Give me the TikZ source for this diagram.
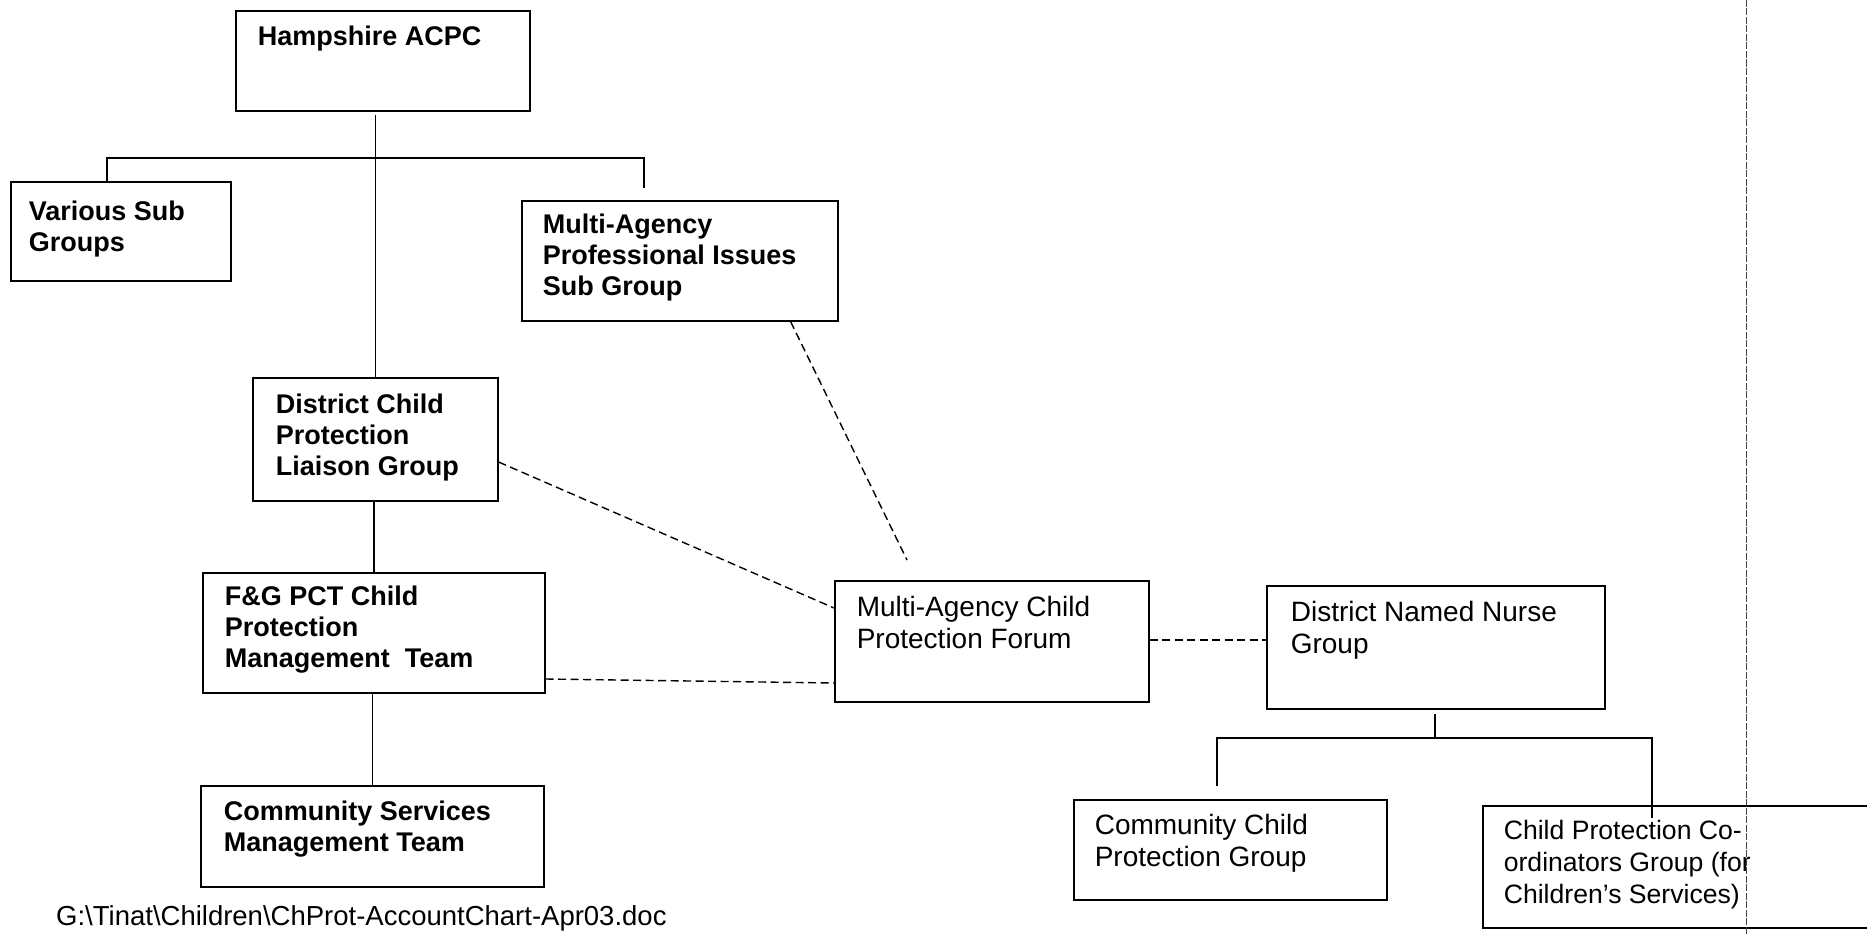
\documentclass[tikz,border=0pt]{standalone}
\usepackage{fontspec}
\setmainfont{Liberation Sans}
\newcommand{\bxt}[5]{\parbox[c][#2][t]{#1}{\raggedright\leftskip=#3\relax\vspace*{#4}#5}}
\newcommand{\bfs}{\bfseries\fontsize{27}{31}\selectfont}
\newcommand{\rgs}{\fontsize{28}{32}\selectfont}
\begin{document}
\begin{tikzpicture}[x=1pt,y=-1pt,
  box/.style={draw, line width=1.6pt, inner sep=0pt, anchor=north west},
  link/.style={line width=1.4pt},
  dlink/.style={line width=1.4pt, dash pattern=on 8pt off 4.5pt},
  edge/.style={line width=0.9pt, draw=black!75, dash pattern=on 7pt off 1.5pt}]
\useasboundingbox (0,0) rectangle (1867,934);
\clip (0,0) rectangle (1867,934);
\fill[white] (0,0) rectangle (1867,934);

% boxes
\node[box] (hamp) at (235,10) {\bxt{294pt}{100pt}{22pt}{15pt}{\bfs Hampshire ACPC}};
\node[box] (various) at (10,181) {\bxt{220pt}{99pt}{18pt}{19pt}{\bfs Various Sub\\Groups}};
\node[box] (mapi) at (521,200) {\bxt{316pt}{120pt}{21pt}{13pt}{\bfs Multi-Agency\\Professional Issues\\Sub Group}};
\node[box] (dcp) at (252,377) {\bxt{245pt}{123pt}{23pt}{16pt}{\bfs District Child\\Protection\\Liaison Group}};
\node[box] (fg) at (202,572) {\bxt{342pt}{120pt}{22pt}{13pt}{\bfs F\&G PCT Child\\Protection\\Management\ \ Team}};
\node[box] (csm) at (200,785) {\bxt{343pt}{101pt}{23pt}{15pt}{\bfs Community Services\\Management Team}};
\node[box] (macpf) at (834,580) {\bxt{314pt}{121pt}{22pt}{15pt}{\rgs Multi-Agency Child\\Protection Forum}};
\node[box] (dnn) at (1266,585) {\bxt{338pt}{123pt}{24pt}{15pt}{\rgs District Named Nurse\\Group}};
\node[box] (ccpg) at (1073,799) {\bxt{313pt}{100pt}{21pt}{14pt}{\rgs Community Child\\Protection Group}};
\node[box] (cpc) at (1482,805) {\bxt{420pt}{122pt}{21pt}{14pt}{\fontsize{26.6}{32}\selectfont Child Protection Co-\\ordinators Group (for\\Children’s Services)}};

\node[anchor=north west, inner sep=0pt, font=\fontsize{27.5}{32}\selectfont] (footer) at (56,905) {G:\textbackslash Tinat\textbackslash Children\textbackslash ChProt-AccountChart-Apr03.doc};

% solid tree lines
\draw[link] ([yshift=-3pt]hamp.south -| dcp.north) -- (dcp.north);
\coordinate (mapidrop) at (644,188);
\draw[link] ([xshift=97pt]various.north west) -- ++(0,-23) -| (mapidrop);
\draw[link] (dcp.south -| fg.north) -- (fg.north);
\draw[link] (fg.south -| csm.north) -- (csm.north);

% dashed links
\draw[dlink] ([yshift=-85pt]dcp.north east) -- ([yshift=-28pt]macpf.north west);
\draw[dlink] ([yshift=-107pt]fg.north east) -- ([yshift=-103pt]macpf.north west);
\coordinate (mapiend) at (907,560);
\draw[dlink] ([xshift=-48pt]mapi.south east) -- (mapiend);
\draw[dlink] ([yshift=-60pt]macpf.north east) -- ([yshift=-55pt]dnn.north west);

% nurse group tree
\coordinate (dnnstart) at (1435,714);
\coordinate (ccpgdrop) at (1217,786);
\coordinate (cpcdrop) at (1652,818);
\draw[link] (dnnstart) -- ++(0,24) coordinate (dnnbar);
\draw[link] (ccpgdrop) |- (dnnbar) -| (cpcdrop);

% page edge line
\coordinate (pagetop) at (1746,0);
\coordinate (pagebot) at (1746,934);
\draw[edge] (pagetop) -- (pagebot);
\end{tikzpicture}
\end{document}
